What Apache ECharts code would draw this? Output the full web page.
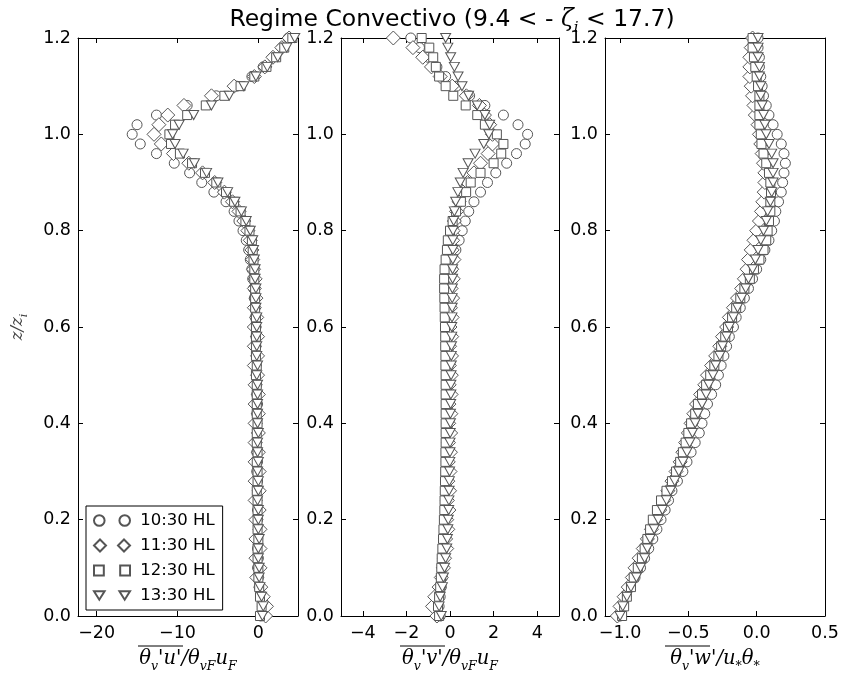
<!DOCTYPE html>
<html>
<head>
<meta charset="utf-8">
<script src="https://cdn.jsdelivr.net/npm/echarts@6/dist/echarts.min.js"></script>
<style>
  html, body { margin: 0; padding: 0; background: #fff; }
  #chart { width: 842px; height: 675px; }
</style>
</head>
<body>
<div id="chart"></div>
<script>
// Normalised height z/zi shared by every profile
const zLevels = [0.00,0.02,0.04,0.06,0.08,0.10,0.12,0.14,0.16,0.18,
                 0.20,0.22,0.24,0.26,0.28,0.30,0.32,0.34,0.36,0.38,
                 0.40,0.42,0.44,0.46,0.48,0.50,0.52,0.54,0.56,0.58,
                 0.60,0.62,0.64,0.66,0.68,0.70,0.72,0.74,0.76,0.78,
                 0.80,0.82,0.84,0.86,0.88,0.90,0.92,0.94,0.96,0.98,
                 1.00,1.02,1.04,1.06,1.08,1.10,1.12,1.14,1.16,1.18,
                 1.20];

const hourLabels = ['10:30 HL', '11:30 HL', '12:30 HL', '13:30 HL'];

// theta_v'u' / theta_vF u_F
const uFlux1030 = [0.3, 0.5, 0.3, 0.1, 0.0, -0.1, 0.0, -0.1, -0.1, 0.0,
  -0.1, -0.1, -0.2, -0.1, -0.1, -0.2, -0.1, -0.2, -0.2, -0.1,
  -0.2, -0.2, -0.1, -0.2, -0.2, -0.2, -0.3, -0.2, -0.3, -0.3,
  -0.3, -0.4, -0.4, -0.5, -0.6, -0.7, -0.8, -1.0, -1.2, -1.5,
  -1.9, -2.4, -3.0, -4.0, -5.5, -7.0, -8.5, -10.4, -12.6, -14.6,
  -15.6, -15.0, -12.6, -8.8, -5.2, -2.7, -0.8, 0.6, 1.8, 2.9,
  3.7];
const uFlux1130 = [0.9, 1.0, 0.6, 0.3, -0.2, 0.2, -0.3, 0.2, -0.3, 0.2,
  -0.3, 0.1, -0.4, 0.1, -0.4, 0.1, -0.4, 0.0, -0.4, 0.0,
  -0.4, 0.0, -0.4, 0.0, -0.4, -0.1, -0.5, -0.1, -0.5, -0.1,
  -0.5, -0.2, -0.5, -0.3, -0.5, -0.4, -0.6, -0.7, -0.8, -1.0,
  -1.3, -1.8, -2.4, -3.2, -4.2, -5.4, -6.9, -8.6, -10.5, -12.0,
  -12.9, -12.3, -11.2, -9.2, -5.8, -3.0, -0.5, 0.8, 1.8, 2.9,
  3.8];
const uFlux1230 = [0.2, 0.4, 0.2, 0.1, 0.0, 0.0, -0.1, -0.1, 0.0, -0.1,
  -0.1, -0.1, -0.1, -0.2, -0.1, -0.1, -0.2, -0.1, -0.2, -0.2,
  -0.1, -0.2, -0.2, -0.2, -0.2, -0.3, -0.2, -0.3, -0.3, -0.3,
  -0.3, -0.3, -0.4, -0.4, -0.4, -0.5, -0.5, -0.6, -0.7, -0.8,
  -1.1, -1.6, -2.2, -3.0, -4.0, -5.2, -6.6, -8.2, -9.7, -10.8,
  -11.0, -10.3, -8.8, -6.5, -4.2, -2.2, -0.5, 1.0, 2.2, 3.2,
  4.2];
const uFlux1330 = [0.5, 0.6, 0.4, 0.2, 0.1, 0.1, 0.0, 0.0, 0.1, 0.0,
  0.0, 0.0, -0.1, 0.0, 0.0, -0.1, 0.0, -0.1, -0.1, 0.0,
  -0.1, -0.1, -0.1, -0.1, -0.1, -0.2, -0.1, -0.2, -0.2, -0.2,
  -0.2, -0.2, -0.3, -0.3, -0.3, -0.4, -0.4, -0.5, -0.6, -0.7,
  -1.0, -1.5, -2.1, -2.9, -3.8, -5.0, -6.4, -7.9, -9.3, -10.3,
  -10.6, -9.8, -8.0, -5.8, -3.6, -1.8, -0.3, 1.1, 2.4, 3.5,
  4.5];

// theta_v'v' / theta_vF u_F
const vFlux1030 = [-0.45, -0.5, -0.45, -0.4, -0.35, -0.32, -0.3, -0.28, -0.25, -0.22,
  -0.2, -0.18, -0.17, -0.16, -0.15, -0.14, -0.13, -0.12, -0.12, -0.11,
  -0.1, -0.1, -0.09, -0.08, -0.07, -0.06, -0.05, -0.05, -0.04, -0.03,
  -0.02, -0.01, 0.0, 0.02, 0.05, 0.08, 0.12, 0.18, 0.27, 0.42,
  0.56, 0.7, 0.86, 1.1, 1.4, 1.72, 2.1, 2.6, 3.05, 3.45,
  3.56, 3.12, 2.45, 1.6, 0.9, 0.3, -0.2, -0.6, -1.0, -1.4,
  -1.8];
const vFlux1130 = [-0.6, -0.8, -0.7, -0.5, -0.4, -0.3, -0.25, -0.15, -0.2, -0.1,
  -0.15, -0.05, -0.12, -0.02, -0.1, 0.0, -0.08, 0.02, -0.07, 0.03,
  -0.06, 0.04, -0.05, 0.05, -0.04, 0.06, -0.03, 0.07, -0.02, 0.08,
  0.0, 0.1, 0.02, 0.12, 0.05, 0.15, 0.08, 0.18, 0.1, 0.12,
  0.14, 0.2, 0.3, 0.42, 0.6, 0.8, 1.1, 1.4, 1.75, 1.95,
  1.95, 1.82, 1.58, 1.35, 0.75, 0.1, -0.45, -0.85, -1.25, -1.7,
  -2.6];
const vFlux1230 = [-0.5, -0.55, -0.5, -0.45, -0.42, -0.4, -0.38, -0.35, -0.32, -0.3,
  -0.28, -0.26, -0.25, -0.24, -0.23, -0.22, -0.21, -0.21, -0.2, -0.2,
  -0.2, -0.2, -0.2, -0.2, -0.2, -0.2, -0.21, -0.21, -0.22, -0.22,
  -0.23, -0.24, -0.25, -0.26, -0.27, -0.27, -0.25, -0.2, -0.14, -0.1,
  0.0, 0.12, 0.28, 0.5, 0.74, 0.95, 1.4, 2.0, 2.35, 2.45,
  2.15, 1.6, 1.25, 0.72, 0.15, -0.2, -0.5, -0.65, -0.77, -0.95,
  -1.3];
const vFlux1330 = [-0.4, -0.5, -0.45, -0.35, -0.3, -0.25, -0.2, -0.15, -0.12, -0.1,
  -0.08, -0.06, -0.05, -0.04, -0.03, -0.02, -0.01, 0.0, 0.0, 0.01,
  0.02, 0.02, 0.03, 0.04, 0.04, 0.05, 0.06, 0.06, 0.07, 0.08,
  0.08, 0.09, 0.1, 0.1, 0.11, 0.12, 0.12, 0.13, 0.13, 0.13,
  0.14, 0.17, 0.2, 0.26, 0.36, 0.47, 0.6, 0.83, 1.15, 1.55,
  1.78, 1.82, 1.6, 1.25, 0.85, 0.55, 0.37, 0.2, 0.03, -0.1,
  -0.2];

// theta_v'w' / u_* theta_*
const wFlux1030 = [-1.00, -0.99, -0.96, -0.93, -0.89, -0.85, -0.82, -0.79, -0.76, -0.73,
  -0.70, -0.67, -0.645, -0.62, -0.58, -0.54, -0.51, -0.48, -0.45, -0.42,
  -0.40, -0.38, -0.36, -0.33, -0.30, -0.28, -0.26, -0.24, -0.22, -0.20,
  -0.17, -0.15, -0.12, -0.09, -0.06, -0.03, 0.00, 0.03, 0.06, 0.09,
  0.11, 0.13, 0.14, 0.16, 0.18, 0.19, 0.20, 0.21, 0.20, 0.18,
  0.15, 0.12, 0.09, 0.07, 0.05, 0.04, 0.03, 0.02, 0.02, 0.01,
  0.01];
const wFlux1130 = [-1.02, -1.00, -0.97, -0.94, -0.91, -0.89, -0.86, -0.83, -0.80, -0.77,
  -0.74, -0.71, -0.68, -0.65, -0.62, -0.59, -0.56, -0.54, -0.52, -0.50,
  -0.48, -0.46, -0.44, -0.41, -0.38, -0.36, -0.33, -0.30, -0.27, -0.25,
  -0.22, -0.20, -0.17, -0.14, -0.11, -0.09, -0.07, -0.06, -0.04, -0.02,
  0.00, 0.02, 0.035, 0.045, 0.055, 0.06, 0.06, 0.05, 0.04, 0.03,
  0.02, 0.01, -0.01, -0.02, -0.03, -0.04, -0.05, -0.05, -0.05, -0.04,
  -0.03];
const wFlux1230 = [-0.985, -0.97, -0.95, -0.92, -0.90, -0.87, -0.84, -0.82, -0.80, -0.78,
  -0.76, -0.73, -0.70, -0.66, -0.62, -0.59, -0.56, -0.54, -0.52, -0.50,
  -0.48, -0.45, -0.43, -0.40, -0.37, -0.34, -0.31, -0.28, -0.26, -0.23,
  -0.21, -0.18, -0.15, -0.12, -0.09, -0.05, -0.02, 0.02, 0.05, 0.07,
  0.08, 0.09, 0.10, 0.10, 0.105, 0.10, 0.09, 0.07, 0.05, 0.035,
  0.03, 0.02, 0.02, 0.02, 0.02, 0.01, 0.00, -0.01, -0.02, -0.03,
  -0.03];
const wFlux1330 = [-1.00, -0.98, -0.95, -0.92, -0.88, -0.85, -0.82, -0.80, -0.78, -0.75,
  -0.72, -0.69, -0.66, -0.63, -0.60, -0.57, -0.54, -0.51, -0.49, -0.47,
  -0.45, -0.43, -0.40, -0.37, -0.35, -0.32, -0.30, -0.27, -0.25, -0.22,
  -0.20, -0.17, -0.14, -0.11, -0.08, -0.06, -0.03, -0.01, 0.01, 0.03,
  0.05, 0.07, 0.08, 0.10, 0.11, 0.12, 0.12, 0.12, 0.11, 0.09,
  0.07, 0.06, 0.05, 0.04, 0.03, 0.03, 0.02, 0.02, 0.01, 0.01,
  0.01];

// Tick positions
const uTicks = [-20, -10, 0];
const vTicks = [-4, -2, 0, 2, 4];
const wTicks = [-1.0, -0.5, 0.0, 0.5];
const zTicks = [0, 0.2, 0.4, 0.6, 0.8, 1.0, 1.2];

// ---- layout & styling ----
const TOP = 38, HEIGHT = 578;
const panels = [
  { left: 78,  width: 220, min: -22.3, max: 4.9, ticks: uTicks, digits: 0,
    profiles: [uFlux1030, uFlux1130, uFlux1230, uFlux1330],
    label: "{m|θ}{s|v}{m|'u'/θ}{s|vF}{m|u}{s|F}" },
  { left: 341, width: 218, min: -5, max: 5, ticks: vTicks, digits: 0,
    profiles: [vFlux1030, vFlux1130, vFlux1230, vFlux1330],
    label: "{m|θ}{s|v}{m|'v'/θ}{s|vF}{m|u}{s|F}" },
  { left: 605, width: 220, min: -1.11, max: 0.5, ticks: wTicks, digits: 1,
    profiles: [wFlux1030, wFlux1130, wFlux1230, wFlux1330],
    label: "{m|θ}{s|v}{m|'w'/u}{s|*}{m|θ}{s|*}" }
];

const markers = [
  { symbol: 'circle', size: 10, rotate: 0 },
  { symbol: 'diamond', size: 14, rotate: 0 },
  { symbol: 'rect', size: 9, rotate: 0 },
  { symbol: 'triangle', size: [10, 9], rotate: 180 }
];
const legendIcons = [
  'path://M1,5a5,5 0 1,0 10,0a5,5 0 1,0 -10,0zM25,5a5,5 0 1,0 10,0a5,5 0 1,0 -10,0z',
  'path://M6,0L12,6L6,12L0,6zM30,0L36,6L30,12L24,6z',
  'path://M1.5,1.5h9v9h-9zM25.5,1.5h9v9h-9z',
  'path://M1,2h10l-5,8zM25,2h10l-5,8z'
];

const MINUS = '\u2212';
const fmt = (v, d) => v.toFixed(d).replace('-', MINUS);

const mathRich = {
  m: { fontFamily: 'DejaVu Serif', fontStyle: 'italic', fontSize: 19.5, color: '#000', lineHeight: 32 },
  s: { fontFamily: 'DejaVu Serif', fontStyle: 'italic', fontSize: 12.5, color: '#000', lineHeight: 12, padding: [15, 0, 0, 0] }
};

const axisLine = { show: true, onZero: false, lineStyle: { color: '#000', width: 1 } };
const tickLine = { color: '#000', width: 1 };

const grids = [], xAxes = [], yAxes = [], series = [], graphics = [];

panels.forEach((p, pi) => {
  grids.push({ left: p.left, top: TOP, width: p.width, height: HEIGHT, outerBoundsMode: 'none' });
  ['bottom', 'top'].forEach((pos) => {
    xAxes.push({
      gridIndex: pi, type: 'value', position: pos, min: p.min, max: p.max,
      axisLine, splitLine: { show: false },
      axisTick: { show: true, inside: true, length: 5, customValues: p.ticks, lineStyle: tickLine },
      axisLabel: pos === 'bottom'
        ? { show: true, customValues: p.ticks, formatter: (v) => fmt(v, p.digits),
            fontFamily: 'DejaVu Sans', fontSize: 17.5, color: '#000', margin: 8 }
        : { show: false }
    });
  });
  ['left', 'right'].forEach((pos) => {
    const ax = {
      gridIndex: pi, type: 'value', position: pos, min: 0, max: 1.2,
      axisLine, splitLine: { show: false },
      axisTick: { show: true, inside: true, length: 5, customValues: zTicks, lineStyle: tickLine },
      axisLabel: pos === 'left'
        ? { show: true, customValues: zTicks, formatter: (v) => fmt(v, 1),
            fontFamily: 'DejaVu Sans', fontSize: 17.5, color: '#000', margin: 7 }
        : { show: false }
    };
    if (pi === 0 && pos === 'left') {
      ax.name = '{m|z}{m|/}{m|z}{s|i}';
      ax.nameLocation = 'middle';
      ax.nameRotate = 90;
      ax.nameGap = 46;
      ax.nameTextStyle = {
        rich: {
          m: { fontFamily: 'DejaVu Serif', fontStyle: 'italic', fontSize: 16.5, color: '#444', lineHeight: 28 },
          s: { fontFamily: 'DejaVu Serif', fontStyle: 'italic', fontSize: 11, color: '#444', lineHeight: 11, padding: [13, 0, 0, 0] }
        }
      };
    }
    yAxes.push(ax);
  });

  p.profiles.forEach((xs, si) => {
    const mk = markers[si];
    series.push({
      type: 'scatter', name: hourLabels[si],
      xAxisIndex: pi * 2, yAxisIndex: pi * 2,
      data: zLevels.map((z, i) => [xs[i], z]),
      symbol: mk.symbol, symbolSize: mk.size, symbolRotate: mk.rotate,
      itemStyle: { color: '#fff', borderColor: '#555', borderWidth: 1, opacity: 1 },
      clip: true, silent: true, z: 2 + si * 0.01
    });
  });

  // axis title below each panel, with the covariance overbar
  const cx = p.left + p.width / 2;
  graphics.push({
    type: 'text', x: cx, y: 659, silent: true,
    style: { text: p.label, align: 'center', verticalAlign: 'middle', rich: mathRich }
  });
  graphics.push({
    type: 'line', silent: true,
    shape: { x1: cx - 50, y1: 646, x2: cx - 5, y2: 646 },
    style: { stroke: '#000', lineWidth: 1 }
  });
});

// figure title
graphics.push({
  type: 'text', x: 452, y: 20, silent: true,
  style: {
    text: '{t|Regime Convectivo (9.4 < - }{z|ζ}{zs|i}{t| < 17.7)}',
    align: 'center', verticalAlign: 'middle',
    rich: {
      t: { fontFamily: 'DejaVu Sans', fontSize: 23.5, color: '#000', lineHeight: 32 },
      z: { fontFamily: 'DejaVu Serif', fontStyle: 'italic', fontSize: 23.5, color: '#000', lineHeight: 32 },
      zs: { fontFamily: 'DejaVu Serif', fontStyle: 'italic', fontSize: 15, color: '#000', lineHeight: 14, padding: [16, 0, 0, 0] }
    }
  }
});

const chart = echarts.init(document.getElementById('chart'), null, { renderer: 'canvas' });
chart.setOption({
  animation: false,
  backgroundColor: '#fff',
  grid: grids,
  xAxis: xAxes,
  yAxis: yAxes,
  legend: {
    data: hourLabels.map((name, i) => ({ name, icon: legendIcons[i] })),
    orient: 'vertical', left: 86, top: 506,
    padding: [6, 8, 6, 7], itemGap: 8, itemWidth: 36, itemHeight: 12,
    borderColor: '#000', borderWidth: 1, borderRadius: 0, backgroundColor: '#fff',
    selectedMode: false, z: 10,
    formatter: (n) => ' ' + n,
    textStyle: { fontFamily: 'DejaVu Sans', fontSize: 16.5, color: '#000', lineHeight: 16 }
  },
  series,
  graphic: graphics
});
</script>
</body>
</html>
